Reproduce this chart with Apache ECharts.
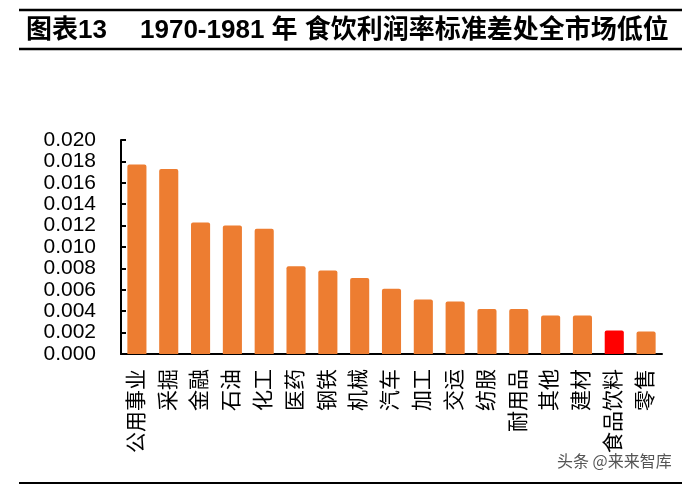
<!DOCTYPE html>
<html>
<head>
<meta charset="utf-8">
<script src="https://cdn.jsdelivr.net/npm/echarts@6/dist/echarts.min.js"></script>
<style>
html,body{margin:0;padding:0;background:#fff;}
#main{width:700px;height:487px;}
</style>
</head>
<body>
<div id="main"></div>
<script>
const categories = ['公用事业','采掘','金融','石油','化工','医药','钢铁','机械','汽车','加工','交运','纺服','耐用品','其他','建材','食品饮料','零售'];
const values = [0.0177,0.0173,0.0123,0.0120,0.0117,0.0082,0.0078,0.0071,0.0061,0.0051,0.0049,0.0042,0.0042,0.0036,0.0036,0.0022,0.0021];
const highlightCategory = '食品饮料';
const yTicks = { min: 0, max: 0.02, interval: 0.002 };
const titleLead = '图表13';
const titleMain = '1970-1981 年 食饮利润率标准差处全市场低位';
const watermark = '头条 @来来智库';

const chart = echarts.init(document.getElementById('main'), null, {renderer:'canvas'});
const cjk = '"Liberation Sans", Arial, "Noto Sans CJK SC", sans-serif';

const barData = values.map((v, i) => categories[i] === highlightCategory
  ? { value: v, itemStyle: { color: '#FF0000' } }
  : v);

chart.setOption({
  backgroundColor: '#fff',
  animation: false,
  grid: { left: 121, right: 38, top: 140, bottom: 133 },
  xAxis: {
    type: 'category',
    data: categories,
    boundaryGap: true,
    axisLine: { lineStyle: { color: '#000', width: 2 } },
    axisTick: { inside: true, length: 5, lineStyle: { color: '#000', width: 2 } },
    axisLabel: { rotate: 90, margin: 15, fontSize: 21, color: '#000', fontFamily: cjk, interval: 0 }
  },
  yAxis: {
    type: 'value',
    min: yTicks.min, max: yTicks.max, interval: yTicks.interval,
    axisLine: { show: true, lineStyle: { color: '#000', width: 2 } },
    axisTick: { show: true, inside: true, length: 5, lineStyle: { color: '#000', width: 2 } },
    splitLine: { show: false },
    axisLabel: { margin: 25, fontSize: 21, color: '#000', fontFamily: '"Liberation Sans", Arial, sans-serif',
      formatter: v => v.toFixed(3) }
  },
  series: [{
    type: 'bar',
    data: barData,
    barWidth: '60%',
    itemStyle: { color: '#ED7D31', borderRadius: [2,2,0,0] }
  }],
  graphic: [
    { type: 'line', shape: { x1: 19, y1: 10, x2: 682, y2: 10 }, style: { stroke: '#000', lineWidth: 2.5 } },
    { type: 'line', shape: { x1: 19, y1: 49, x2: 682, y2: 49 }, style: { stroke: '#000', lineWidth: 2.5 } },
    { type: 'line', shape: { x1: 19, y1: 483, x2: 682, y2: 483 }, style: { stroke: '#000', lineWidth: 2 } },
    { type: 'text', left: 26, top: 18, style: { text: titleLead, font: 'bold 26px ' + cjk, fill: '#000' } },
    { type: 'text', left: 140, top: 18, style: { text: titleMain, font: 'bold 26px ' + cjk, fill: '#000' } },
    { type: 'text', left: 557, top: 453, style: { text: watermark, font: '16px "Noto Sans CJK SC", sans-serif', fill: '#555' } }
  ]
});
</script>
</body>
</html>
